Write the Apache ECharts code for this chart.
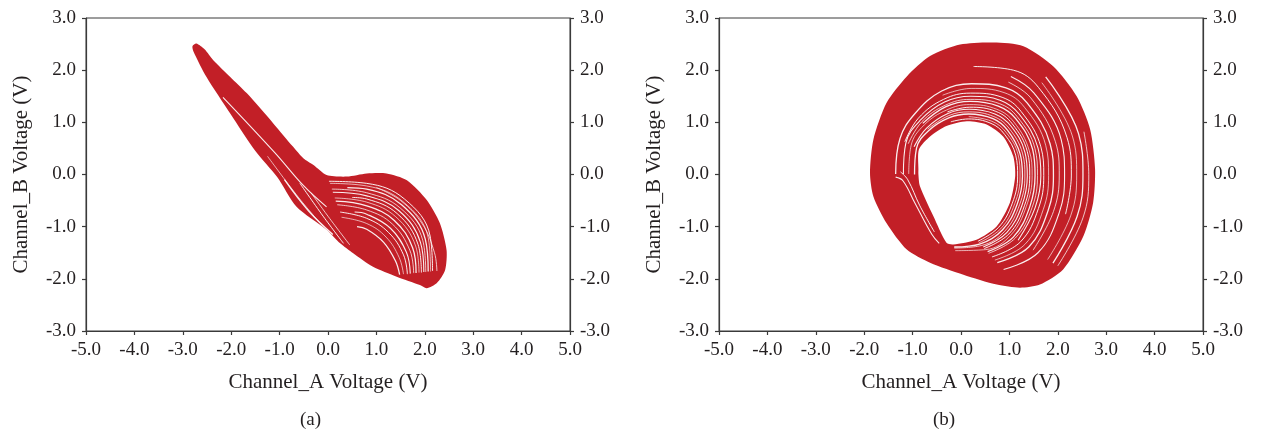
<!DOCTYPE html>
<html>
<head>
<meta charset="utf-8">
<title>Channel_A vs Channel_B phase portraits</title>
<script src="https://cdn.jsdelivr.net/npm/echarts@6/dist/echarts.min.js"></script>
<style>
  html, body { margin: 0; padding: 0; background: #ffffff; }
  #chart { width: 1261px; height: 438px; }
</style>
</head>
<body>
<div id="chart"></div>
<script>
// Axis ranges and tick step (both panels share them)
const xRange = [-5, 5];
const yRange = [-3, 3];
const tickStep = 1;

// Panel (a): outline of the attractor band, [Channel_A, Channel_B] in volts
const outlineA = [
  [-2.80, 2.46], [-2.72, 2.51], [-2.55, 2.40], [-2.37, 2.19], [-2.02, 1.87],
  [-1.68, 1.56], [-1.13, 0.98], [-0.72, 0.53], [-0.51, 0.31], [-0.30, 0.18],
  [-0.03, -0.01], [0.39, -0.04], [0.80, 0.02], [1.21, 0.02], [1.63, -0.11],
  [2.04, -0.49], [2.31, -0.93], [2.45, -1.45], [2.42, -1.83], [2.25, -2.08],
  [2.04, -2.18], [1.90, -2.12], [1.42, -1.96], [0.93, -1.77], [0.52, -1.51],
  [0.25, -1.32], [-0.03, -1.06], [-0.65, -0.62], [-1.05, -0.05], [-1.50, 0.45],
  [-2.02, 1.17], [-2.51, 1.87], [-2.78, 2.36]
];

// Panel (a): open gaps between neighbouring trajectory strands
const gapsA = [
  [[0.02, -0.13], [0.80, -0.17], [1.58, -0.47], [2.11, -1.18], [2.16, -1.85]],
  [[0.04, -0.17], [0.80, -0.22], [1.55, -0.52], [2.07, -1.21], [2.12, -1.86]],
  [[0.40, -0.25], [0.80, -0.28], [1.52, -0.58], [2.01, -1.24], [2.07, -1.86]],
  [[0.08, -0.28], [0.80, -0.35], [1.49, -0.64], [1.96, -1.27], [2.02, -1.87]],
  [[0.10, -0.34], [0.80, -0.41], [1.46, -0.69], [1.91, -1.30], [1.98, -1.87]],
  [[0.50, -0.44], [0.80, -0.47], [1.43, -0.75], [1.86, -1.34], [1.93, -1.88]],
  [[0.14, -0.45], [0.80, -0.53], [1.40, -0.81], [1.81, -1.37], [1.88, -1.88]],
  [[0.16, -0.51], [0.80, -0.60], [1.37, -0.88], [1.75, -1.41], [1.82, -1.89]],
  [[0.19, -0.58], [0.80, -0.68], [1.33, -0.95], [1.69, -1.45], [1.77, -1.89]],
  [[0.55, -0.72], [0.80, -0.76], [1.29, -1.03], [1.62, -1.49], [1.70, -1.90]],
  [[0.25, -0.72], [0.80, -0.84], [1.25, -1.11], [1.56, -1.54], [1.64, -1.91]],
  [[0.28, -0.82], [0.80, -0.94], [1.20, -1.20], [1.47, -1.59], [1.56, -1.91]],
  [[0.60, -1.00], [0.80, -1.05], [1.15, -1.30], [1.39, -1.65], [1.48, -1.92]],
  [[1.00, -0.25], [1.50, -0.50], [1.95, -0.95], [2.20, -1.50], [2.25, -1.85]],
  [[-2.17, 1.48], [-1.10, 0.42], [-0.50, -0.22], [-0.03, -0.62]],
  [[-0.58, -0.17], [-0.10, -0.80], [0.32, -1.32]],
  [[-1.25, 0.35], [-0.60, -0.45], [-0.10, -1.00]],
  [[-0.90, -0.10], [-0.40, -0.70], [0.10, -1.15]],
  [[-0.35, -0.35], [0.00, -0.80], [0.45, -1.35]]
];

// Panel (b): outer edge of the ring and edge of the central hole
const outerB = [
  [-1.88, 0.03], [-1.81, 0.67], [-1.54, 1.37], [-1.12, 1.88], [-0.64, 2.27],
  [-0.02, 2.49], [0.67, 2.53], [1.29, 2.46], [1.91, 2.07], [2.39, 1.50],
  [2.67, 0.86], [2.77, 0.10], [2.73, -0.54], [2.53, -1.18], [2.11, -1.82],
  [1.63, -2.11], [1.22, -2.17], [0.74, -2.11], [0.05, -1.92], [-0.64, -1.69],
  [-1.12, -1.44], [-1.54, -0.93], [-1.81, -0.42]
];
const holeB = [
  [-0.88, 0.10], [-0.87, 0.48], [-0.64, 0.73], [-0.30, 0.93], [0.12, 1.02],
  [0.53, 0.96], [0.87, 0.73], [1.08, 0.35], [1.12, -0.03], [1.01, -0.54],
  [0.74, -0.99], [0.32, -1.25], [-0.16, -1.34], [-0.30, -1.31], [-0.57, -0.80],
  [-0.85, -0.22], [-0.88, 0.00]
];

// Panel (b): open gaps between neighbouring loops
const gapsB = [
  [[-0.21, 1.01], [0.15, 1.065], [0.62, 0.98], [0.90, 0.77], [1.13, 0.37], [1.17, -0.03], [1.06, -0.55], [0.78, -1.01], [0.35, -1.28]],
  [[0.16, 1.11], [0.64, 1.02], [0.93, 0.81], [1.18, 0.38], [1.22, -0.03], [1.11, -0.56], [0.82, -1.04], [0.37, -1.31]],
  [[-0.96, 0.00], [-0.92, 0.50], [-0.67, 0.84], [-0.24, 1.09], [0.16, 1.16], [0.66, 1.07], [0.96, 0.85], [1.22, 0.40], [1.27, -0.03], [1.16, -0.57], [0.86, -1.06], [0.40, -1.33], [-0.14, -1.39]],
  [[-0.69, 0.87], [-0.25, 1.13], [0.17, 1.20], [0.68, 1.11], [0.99, 0.89], [1.27, 0.41], [1.32, -0.03], [1.21, -0.58], [0.90, -1.09], [0.43, -1.36], [-0.14, -1.41]],
  [[-0.97, 0.53], [-0.71, 0.89], [-0.27, 1.17], [0.17, 1.25], [0.70, 1.16], [1.03, 0.93], [1.32, 0.43], [1.37, -0.03], [1.26, -0.59], [0.95, -1.11], [0.46, -1.39]],
  [[-0.28, 1.20], [0.18, 1.29], [0.72, 1.21], [1.06, 0.97], [1.37, 0.44], [1.42, -0.02], [1.31, -0.60], [0.99, -1.14], [0.48, -1.42]],
  [[-1.08, 0.01], [-1.03, 0.56], [-0.76, 0.95], [-0.29, 1.24], [0.18, 1.34], [0.74, 1.25], [1.09, 1.01], [1.41, 0.46], [1.47, -0.02], [1.35, -0.61], [1.03, -1.16], [0.51, -1.44], [-0.12, -1.46]],
  [[-0.79, 0.98], [-0.31, 1.30], [0.19, 1.40], [0.77, 1.31], [1.13, 1.07], [1.48, 0.48], [1.53, -0.02], [1.42, -0.62], [1.08, -1.20], [0.55, -1.48]],
  [[-1.09, 0.59], [-0.81, 1.01], [-0.32, 1.33], [0.19, 1.44], [0.79, 1.36], [1.16, 1.11], [1.53, 0.49], [1.58, -0.02], [1.47, -0.63], [1.12, -1.22], [0.57, -1.51]],
  [[-1.19, 0.01], [-1.14, 0.60], [-0.84, 1.04], [-0.34, 1.39], [0.20, 1.50], [0.82, 1.42], [1.20, 1.16], [1.59, 0.51], [1.65, -0.02], [1.53, -0.64], [1.18, -1.26]],
  [[-1.16, 0.63], [-0.88, 1.08], [-0.36, 1.44], [0.20, 1.56], [0.85, 1.48], [1.24, 1.21], [1.65, 0.53], [1.71, -0.02], [1.60, -0.65], [1.23, -1.29], [0.64, -1.58]],
  [[-0.38, 1.52], [0.21, 1.65], [0.89, 1.57], [1.31, 1.29], [1.75, 0.56], [1.81, -0.02], [1.70, -0.67], [1.32, -1.34], [0.70, -1.64]],
  [[-1.35, 0.01], [-1.26, 0.69], [-0.95, 1.17], [-0.40, 1.60], [0.22, 1.74], [0.93, 1.66], [1.37, 1.37], [1.84, 0.59], [1.91, -0.02], [1.80, -0.69], [1.40, -1.39], [0.75, -1.69]],
  [[0.98, 1.77], [1.44, 1.47], [1.95, 0.63], [2.03, -0.01], [1.91, -0.71], [1.49, -1.45]],
  [[1.03, 1.88], [1.51, 1.56], [2.07, 0.67], [2.14, -0.01], [2.03, -0.73], [1.59, -1.50], [0.88, -1.82]],
  [[0.26, 2.07], [1.08, 2.00], [1.60, 1.67], [2.19, 0.71], [2.28, -0.01], [2.16, -0.76]],
  [[1.67, 1.76], [2.30, 0.74], [2.39, -0.01], [2.27, -0.78], [1.79, -1.63]],
  [[1.75, 1.87], [2.43, 0.78], [2.52, 0.00], [2.40, -0.80], [1.90, -1.70]],
  [[2.54, 0.82], [2.64, 0.00], [2.52, -0.83], [2.00, -1.75]],
  [[-1.35, -0.05], [-1.20, -0.12], [-0.95, -0.55], [-0.60, -1.15], [-0.45, -1.32]],
  [[-1.25, 0.05], [-1.10, -0.10], [-0.85, -0.60], [-0.55, -1.10]]
];

const RED = '#c21f27';
const TEXT = '#231f20';
const FONT = '"Liberation Serif", "DejaVu Serif", serif';

const chart = echarts.init(document.getElementById('chart'), null, { renderer: 'canvas' });

const fmt = v => v.toFixed(1);
const labelStyle = { color: TEXT, fontFamily: FONT, fontSize: 19 };
const axisLine = { show: true, onZero: false, lineStyle: { color: '#3a3a3a', width: 1.2 } };
const axisTick = { show: true, length: 4, lineStyle: { color: '#3a3a3a', width: 1.2 } };
const nameStyle = { color: TEXT, fontFamily: FONT, fontSize: 21 };

function xAxisFor(gridIndex) {
  return {
    type: 'value', gridIndex, min: xRange[0], max: xRange[1], interval: tickStep,
    name: 'Channel_A Voltage (V)', nameLocation: 'middle', nameGap: 41,
    nameTextStyle: nameStyle,
    axisLine, axisTick, splitLine: { show: false },
    axisLabel: Object.assign({ formatter: fmt, margin: 10 }, labelStyle)
  };
}
function yAxisFor(gridIndex, position) {
  const ax = {
    type: 'value', gridIndex, position, min: yRange[0], max: yRange[1], interval: tickStep,
    axisLine, axisTick, splitLine: { show: false },
    axisLabel: Object.assign({ formatter: fmt, margin: 10 }, labelStyle)
  };
  if (position === 'left') {
    ax.name = 'Channel_B Voltage (V)';
    ax.nameLocation = 'middle';
    ax.nameGap = 54;
    ax.nameTextStyle = nameStyle;
  }
  return ax;
}

function polygonSeries(points, fill, xi, yi, z) {
  return {
    type: 'custom', xAxisIndex: xi, yAxisIndex: yi, z, silent: true,
    data: [[0, 0]],
    renderItem: (params, api) => ({
      type: 'polygon',
      shape: { points: points.map(p => api.coord(p)), smooth: 0.25 },
      style: { fill: fill, stroke: null }
    })
  };
}
// thin white strands, alternating slightly in weight
function gapSeries(lines, xi, yi, z) {
  const widths = [1, 0.7, 1.3, 0.8, 1.1];
  return lines.map((pts, i) => ({
    type: 'line', xAxisIndex: xi, yAxisIndex: yi, z, silent: true,
    data: pts, smooth: 0.4, showSymbol: false, symbol: 'none',
    lineStyle: { color: '#ffffff', width: widths[i % widths.length], opacity: 0.92 }
  }));
}

const option = {
  animation: false,
  backgroundColor: '#ffffff',
  grid: [
    { left: 86, top: 18, width: 484, height: 313, show: true, borderColor: '#3a3a3a', borderWidth: 1 },
    { left: 719, top: 18, width: 484, height: 313, show: true, borderColor: '#3a3a3a', borderWidth: 1 }
  ],
  xAxis: [xAxisFor(0), xAxisFor(1)],
  yAxis: [yAxisFor(0, 'left'), yAxisFor(0, 'right'), yAxisFor(1, 'left'), yAxisFor(1, 'right')],
  graphic: [
    { type: 'text', left: 300, top: 411, style: { text: '(a)', font: '19px ' + FONT, fill: TEXT } },
    { type: 'text', left: 933, top: 411, style: { text: '(b)', font: '19px ' + FONT, fill: TEXT } }
  ],
  series: [
    polygonSeries(outlineA, RED, 0, 0, 2),
    ...gapSeries(gapsA, 0, 0, 3),
    polygonSeries(outerB, RED, 1, 2, 2),
    ...gapSeries(gapsB, 1, 2, 3),
    polygonSeries(holeB, '#ffffff', 1, 2, 4)
  ]
};

chart.setOption(option);
</script>
</body>
</html>
